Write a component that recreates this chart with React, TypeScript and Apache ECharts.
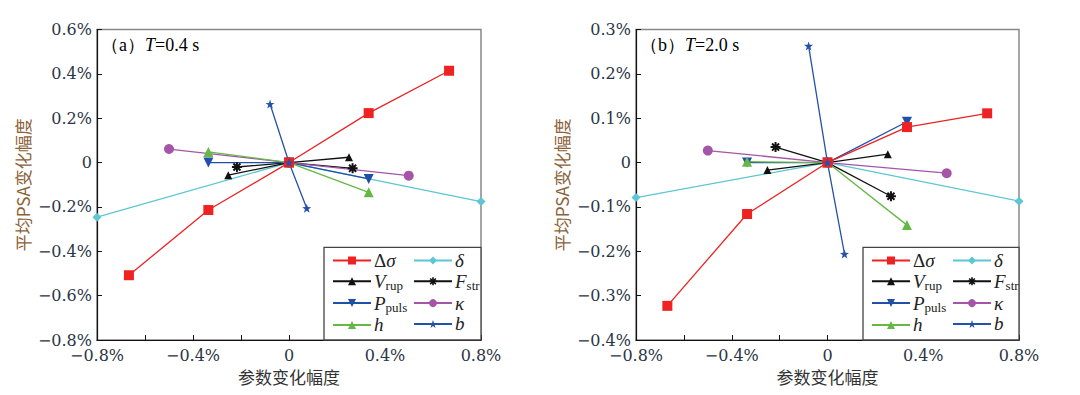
import React, { useEffect, useRef } from "react";
import * as echarts from "echarts";

// ---- data ----
const seriesNames = ["Δσ", "δ", "Vrup", "Fstr", "Ppuls", "κ", "h", "b"];
const legendLeftCol = ["Δσ", "Vrup", "Ppuls", "h"];
const legendRightCol = ["δ", "Fstr", "κ", "b"];

// panel (a) T = 0.4 s
const aDsigX = [-0.667, -0.336, 0, 0.332, 0.667];
const aDsigY = [-0.508, -0.214, 0, 0.223, 0.414];
const aDeltaX = [-0.8, 0, 0.8];
const aDeltaY = [-0.246, 0, -0.176];
const aVrupX = [-0.253, 0, 0.25];
const aVrupY = [-0.057, 0, 0.024];
const aFstrX = [-0.217, 0, 0.265];
const aFstrY = [-0.02, 0, -0.026];
const aPpulsX = [-0.336, 0, 0.332];
const aPpulsY = [0, 0, -0.074];
const aKappaX = [-0.5, 0, 0.499];
const aKappaY = [0.061, 0, -0.059];
const aHX = [-0.336, 0, 0.332];
const aHY = [0.048, 0, -0.134];
const aBX = [-0.079, 0, 0.074];
const aBY = [0.264, 0, -0.206];

// panel (b) T = 2.0 s
const bDsigX = [-0.669, -0.336, 0, 0.332, 0.667];
const bDsigY = [-0.323, -0.116, 0, 0.08, 0.111];
const bDeltaX = [-0.8, 0, 0.8];
const bDeltaY = [-0.079, 0, -0.087];
const bVrupX = [-0.251, 0, 0.252];
const bVrupY = [-0.017, 0, 0.019];
const bFstrX = [-0.217, 0, 0.265];
const bFstrY = [0.035, 0, -0.076];
const bPpulsX = [-0.336, 0, 0.332];
const bPpulsY = [0, 0, 0.092];
const bKappaX = [-0.5, 0, 0.498];
const bKappaY = [0.027, 0, -0.024];
const bHX = [-0.336, 0, 0.332];
const bHY = [0.002, 0, -0.141];
const bBX = [-0.079, 0, 0.071];
const bBY = [0.263, 0, -0.206];

const panelTitles = ["a", "b"];
const panelPeriods = ["0.4", "2.0"];

// ---- styles ----
const ASTERISK =
  "path://M-1,-5L1,-5L1,5L-1,5Z M-5,-1L5,-1L5,1L-5,1Z M-2.83,-4.24L4.24,2.83L2.83,4.24L-4.24,-2.83Z M-4.24,2.83L2.83,-4.24L4.24,-2.83L-2.83,4.24Z";
const STAR =
  "path://M0,-10L2.35,-3.24L9.51,-3.09L3.8,1.24L5.88,8.09L0,4L-5.88,8.09L-3.8,1.24L-9.51,-3.09L-2.35,-3.24Z";

const styleOf: Record<string, any> = {
  "Δσ": { color: "#ee2222", symbol: "rect", size: 10, rotate: 0 },
  "δ": { color: "#5cc6d2", symbol: "diamond", size: 9, rotate: 0 },
  Vrup: { color: "#111111", symbol: "triangle", size: 8, rotate: 0 },
  Fstr: { color: "#111111", symbol: ASTERISK, size: 10, rotate: 0 },
  Ppuls: { color: "#1f4fa8", symbol: "triangle", size: 10, rotate: 180 },
  "κ": { color: "#a455a8", symbol: "circle", size: 10, rotate: 0 },
  h: { color: "#66b844", symbol: "triangle", size: 10, rotate: 0 },
  b: { color: "#2452aa", symbol: STAR, size: 9, rotate: 0 },
};

const serif = "'Liberation Serif', 'DejaVu Serif', serif";
const wideSerif = "'DejaVu Serif', serif";
const cjk = "'Noto Sans CJK SC', sans-serif";

function pct(v: number) {
  if (Math.abs(v) < 1e-9) return "0";
  return (v < 0 ? "−" : "") + Math.abs(v).toFixed(1) + "%";
}

const legendFmt = (name: string) => {
  switch (name) {
    case "Δσ":
      return "{r|Δ}{i|σ}";
    case "δ":
      return "{i|δ}";
    case "Vrup":
      return "{i|V}{s|rup}";
    case "Fstr":
      return "{i|F}{s|str}";
    case "Ppuls":
      return "{i|P}{s|puls}";
    case "κ":
      return "{i|κ}";
    case "h":
      return "{i|h}";
    case "b":
      return "{i|b}";
  }
  return name;
};

const legendRich = {
  r: { fontFamily: serif, fontSize: 19, lineHeight: 21, color: "#222" },
  i: { fontFamily: serif, fontSize: 19, fontStyle: "italic", lineHeight: 21, color: "#222" },
  s: { fontFamily: serif, fontSize: 13, lineHeight: 12, verticalAlign: "bottom", color: "#222" },
};

export default function App() {
  const ref = useRef<HTMLDivElement>(null);
  useEffect(() => {
    if (!ref.current) return;
    const chart = echarts.init(ref.current, null, { renderer: "svg" });

    const grids = [
      { left: 97, top: 29.5, width: 384, height: 310.5 },
      { left: 636, top: 29.5, width: 383, height: 310.5 },
    ];
    const yRanges = [
      { min: -0.8, max: 0.6, interval: 0.2 },
      { min: -0.4, max: 0.3, interval: 0.1 },
    ];
    const data = [
      {
        "Δσ": [aDsigX, aDsigY],
        "δ": [aDeltaX, aDeltaY],
        Vrup: [aVrupX, aVrupY],
        Fstr: [aFstrX, aFstrY],
        Ppuls: [aPpulsX, aPpulsY],
        "κ": [aKappaX, aKappaY],
        h: [aHX, aHY],
        b: [aBX, aBY],
      },
      {
        "Δσ": [bDsigX, bDsigY],
        "δ": [bDeltaX, bDeltaY],
        Vrup: [bVrupX, bVrupY],
        Fstr: [bFstrX, bFstrY],
        Ppuls: [bPpulsX, bPpulsY],
        "κ": [bKappaX, bKappaY],
        h: [bHX, bHY],
        b: [bBX, bBY],
      },
    ] as Record<string, number[][]>[];

    const axisLabelStyle = { fontFamily: wideSerif, fontSize: 16, lineHeight: 12, color: "#2b3545" };

    const xAxis = grids.map((_, i) => ({
      type: "value",
      gridIndex: i,
      min: -0.8,
      max: 0.8,
      interval: 0.2,
      name: "参数变化幅度",
      nameLocation: "middle",
      nameGap: 25,
      nameTextStyle: { fontFamily: cjk, fontSize: 17, color: "#333" },
      axisLine: { show: true, onZero: false, lineStyle: { color: "#111", width: 1.2 } },
      axisTick: { show: true, inside: true, length: 5, lineStyle: { color: "#111" } },
      splitLine: { show: false },
      axisLabel: {
        ...axisLabelStyle,
        margin: 9,
        formatter: (v: number) => (Math.round(v * 10) % 4 === 0 ? pct(v) : ""),
      },
    }));

    const yAxis = grids.map((_, i) => ({
      type: "value",
      gridIndex: i,
      ...yRanges[i],
      name: "平均PSA变化幅度",
      nameLocation: "middle",
      nameGap: 66,
      nameTextStyle: { fontFamily: cjk, fontSize: 17, color: "#8c6239" },
      axisLine: { show: true, onZero: false, lineStyle: { color: "#111", width: 1.2 } },
      axisTick: { show: true, inside: true, length: 5, lineStyle: { color: "#111" } },
      splitLine: { show: false },
      axisLabel: { ...axisLabelStyle, margin: 5, formatter: (v: number) => pct(v) },
    }));

    const series: any[] = [];
    data.forEach((d, gi) => {
      seriesNames.forEach((name) => {
        const st = styleOf[name];
        const [xs, ys] = d[name];
        series.push({
          type: "line",
          name,
          xAxisIndex: gi,
          yAxisIndex: gi,
          data: xs.map((x, k) => [x, ys[k]]),
          symbol: st.symbol,
          symbolSize: st.size,
          symbolRotate: st.rotate,
          showAllSymbol: true,
          lineStyle: { color: st.color, width: 1.3 },
          itemStyle: { color: st.color },
          z: name === "b" || name === "Δσ" ? 4 : 3,
        });
      });
    });

    const legends: any[] = [];
    const boxLefts = [324, 863];
    boxLefts.forEach((bl) => {
      [legendLeftCol, legendRightCol].forEach((col, ci) => {
        legends.push({
          data: col,
          orient: "vertical",
          left: bl + 8 + ci * 81,
          top: 251,
          itemWidth: 38,
          itemHeight: 10,
          itemGap: 1.8,
          selectedMode: false,
          padding: 0,
          formatter: legendFmt,
          textStyle: { rich: legendRich, padding: [0, 0, 0, -2] },
        });
      });
    });

    const graphic: any[] = [];
    boxLefts.forEach((bl, i) => {
      const right = i === 0 ? 481 : 1019;
      graphic.push({
        type: "rect",
        shape: { x: bl, y: 247.3, width: right - bl, height: 340 - 247.3 },
        style: { fill: "#fff", stroke: "#444", lineWidth: 1.3 },
        z: 2,
        silent: true,
      });
      graphic.push({
        type: "text",
        left: grids[i].left + 4,
        top: 36,
        style: {
          text: `{r|（${panelTitles[i]}）}{i|T}{r|=${panelPeriods[i]} s}`,
          rich: {
            r: { fontFamily: serif, fontSize: 18, color: "#222" },
            i: { fontFamily: serif, fontSize: 18, fontStyle: "italic", color: "#222" },
          },
        },
        z: 5,
      });
    });

    chart.setOption({
      animation: false,
      grid: grids.map((g) => ({ ...g, show: true, borderColor: "#888", borderWidth: 1.5, backgroundColor: "transparent" })),
      xAxis,
      yAxis,
      legend: legends,
      series,
      graphic,
    });
    return () => chart.dispose();
  }, []);
  return (
    <div
      ref={ref}
      style={{ position: "fixed", left: 0, top: 0, width: 1080, height: 395, background: "#fff" }}
    />
  );
}
